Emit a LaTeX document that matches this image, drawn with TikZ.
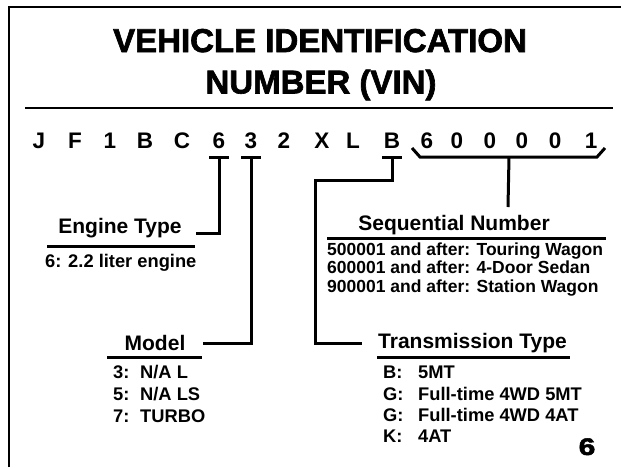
\documentclass[tikz,border=0pt]{standalone}
\usepackage{fontspec}
\usepackage{graphicx}
\setmainfont{Liberation Sans}
\newfontfamily\heavyfont[FakeBold=2]{Liberation Sans Bold}
\usetikzlibrary{calc}
\begin{document}
\begin{tikzpicture}[x=1pt,y=-1pt,
  frame/.style={line width=2pt},
  conn/.style={line width=3pt},
  rulel/.style={line width=2.8pt},
  titletext/.style={font=\heavyfont\fontsize{33}{40}\selectfont, anchor=base, inner sep=0pt},
  vin/.style={font=\bfseries\fontsize{22.5}{27}\selectfont, anchor=base, inner sep=0pt},
  head/.style={font=\bfseries\fontsize{21}{25}\selectfont, anchor=base, inner sep=0pt},
  item/.style={font=\bfseries\fontsize{18.3}{22}\selectfont, anchor=base west, inner sep=0pt},
  itemsm/.style={font=\bfseries\fontsize{17.5}{21}\selectfont, anchor=base west, inner sep=0pt},
  pagenum/.style={font=\heavyfont\fontsize{24}{28}\selectfont, anchor=base, inner sep=0pt}
  ]
\fill[white] (0,0) rectangle (621,467);
\useasboundingbox (0,0) rectangle (621,467);
% frame
\draw[frame] (9,467) -- (9,7) -- (621,7);
% title
\node[titletext] (t1) at (320,52) {VEHICLE IDENTIFICATION};
\node[titletext] (t2) at (321,93.5) {NUMBER (VIN)};
\coordinate (rl) at (25,108);
\coordinate (rr) at (613,108);
\draw[rulel] (rl) -- (rr);
% VIN characters
\foreach \x/\c [count=\i] in {39/J,75/F,110/1,145/B,182/C,219/6,251/3,284/2,322/X,353/L,392/B,427/6,457/0,490/0,522/0,555/0,591/1}
  \node[vin] (c\i) at (\x,148) {\c};
% underlines under 6, 3, B
\foreach \i in {6,7,11}
  \draw[conn] ($(c\i.base)+(-10,9)$) -- ++(20,0);
% Engine type
\node[head] (eng) at (120,233) {Engine Type};
\coordinate (engc) at (196,233);
\draw[conn] ($(c6.base)+(0,9)$) |- (engc);
\coordinate (engl) at (47,246);
\coordinate (engr) at (195,246);
\draw[conn] (engl) -- (engr);
\node[item] (eng1) at (45,267) {6: 2.2 liter engine};
% Model
\node[head] (mod) at (155,350) {Model};
\coordinate (modc) at (203,343);
\draw[conn] ($(c7.base)+(0,9)$) |- (modc);
\coordinate (modl) at (107,357);
\coordinate (modr) at (202,357);
\draw[conn] (modl) -- (modr);
\node[item] (mod1) at (113,378) {\makebox[27pt][l]{3:}N/A L};
\node[item] (mod2) at (113,400) {\makebox[27pt][l]{5:}N/A LS};
\node[item] (mod3) at (113,422) {\makebox[27pt][l]{7:}TURBO};
% Transmission
\node[head] (tra) at (472.5,348) {Transmission Type};
\coordinate (trak) at (315,180);
\coordinate (trac) at (362,343);
\draw[conn] ($(c11.base)+(0,9)$) |- (trak) |- (trac);
\coordinate (tral) at (377,357);
\coordinate (trar) at (570,357);
\draw[conn] (tral) -- (trar);
\node[item] (tra1) at (383,378) {\makebox[35pt][l]{B:}5MT};
\node[item] (tra2) at (383,400) {\makebox[35pt][l]{G:}Full-time 4WD 5MT};
\node[item] (tra3) at (383,421) {\makebox[35pt][l]{G:}Full-time 4WD 4AT};
\node[item] (tra4) at (383,442) {\makebox[35pt][l]{K:}4AT};
% Sequential number
\draw[conn, line join=miter] ($(c12.base)+(-15,0)$) -- ($(c12.base)+(-7,9)$) -- ($(c17.base)+(6,9)$) -- ($(c17.base)+(14,0)$);
\node[head] (seq) at (454,230) {Sequential Number};
\coordinate (seqtop) at (508,207);
\draw[conn] ($(c12.base)!0.5!(c17.base)+(0,9)$) -- (seqtop);
\coordinate (seql) at (327,238);
\coordinate (seqr) at (606,238);
\draw[conn] (seql) -- (seqr);
\node[itemsm] (seq1) at (327,255) {500001 and after: Touring Wagon};
\node[itemsm] (seq2) at (327,273.5) {600001 and after: 4-Door Sedan};
\node[itemsm] (seq3) at (327,292) {900001 and after: Station Wagon};
% page number
\node[pagenum] (pg) at (587,455) {\scalebox{1.25}[1]{6}};
\end{tikzpicture}
\end{document}
